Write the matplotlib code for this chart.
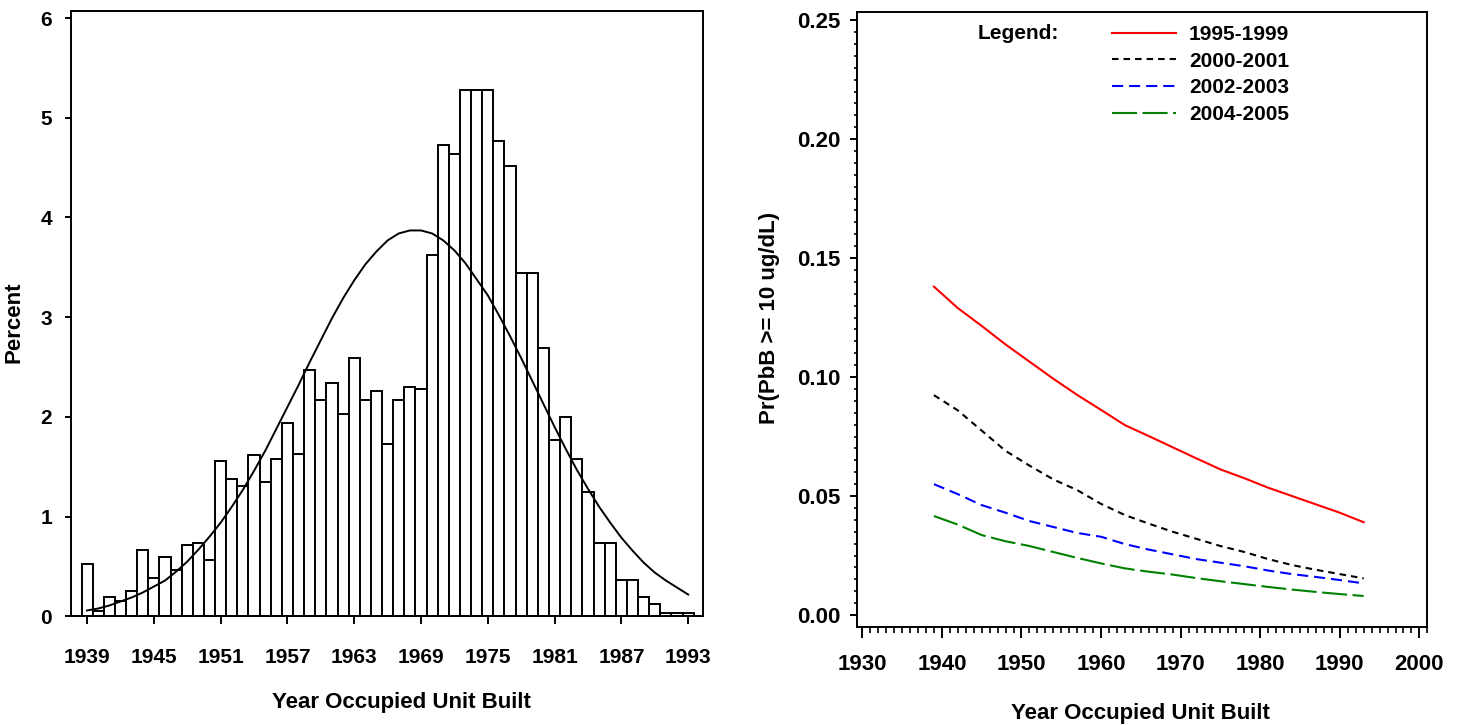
"""Year built histogram and predicted blood lead probability by survey period."""

import matplotlib

matplotlib.use("Agg")
import matplotlib.pyplot as plt
from matplotlib.ticker import MultipleLocator

plt.rcParams["font.family"] = ["Liberation Sans", "DejaVu Sans"]
plt.rcParams["font.weight"] = "bold"
plt.rcParams["lines.scale_dashes"] = False

# left panel: percent of occupied units by year built
years = list(range(1939, 1994))
percent = [
    0.53, 0.05, 0.20, 0.16, 0.26, 0.67, 0.39, 0.60, 0.47, 0.72,
    0.74, 0.57, 1.56, 1.38, 1.31, 1.62, 1.35, 1.58, 1.94, 1.63,
    2.47, 2.17, 2.34, 2.03, 2.59, 2.17, 2.26, 1.73, 2.17, 2.30,
    2.28, 3.62, 4.73, 4.64, 5.28, 5.28, 5.28, 4.77, 4.52, 3.44,
    3.44, 2.69, 1.77, 2.00, 1.58, 1.25, 0.74, 0.74, 0.37, 0.37,
    0.20, 0.12, 0.03, 0.03, 0.03,
]
fitted_curve = [
    0.06, 0.08, 0.11, 0.15, 0.19, 0.24, 0.30, 0.36, 0.45, 0.55,
    0.67, 0.80, 0.94, 1.10, 1.27, 1.46, 1.66, 1.88, 2.10, 2.32,
    2.55, 2.77, 2.99, 3.19, 3.37, 3.53, 3.66, 3.77, 3.84, 3.87,
    3.87, 3.84, 3.77, 3.67, 3.54, 3.38, 3.22, 3.02, 2.81, 2.59,
    2.36, 2.13, 1.90, 1.68, 1.47, 1.28, 1.10, 0.94, 0.79, 0.66,
    0.54, 0.44, 0.36, 0.29, 0.22,
]
hist_ticks = [1939, 1945, 1951, 1957, 1963, 1969, 1975, 1981, 1987, 1993]

# right panel: predicted Pr(PbB >= 10 ug/dL)
curve_years = [1939, 1942, 1945, 1948, 1951, 1954, 1957, 1960, 1963, 1966,
               1969, 1972, 1975, 1978, 1981, 1984, 1987, 1990, 1993]
pr_1995_1999 = [0.1380, 0.1290, 0.1215, 0.1137, 0.1065, 0.0993, 0.0925, 0.0862, 0.0798, 0.0752,
                0.0705, 0.0658, 0.0612, 0.0575, 0.0535, 0.0500, 0.0465, 0.0430, 0.0390]
pr_2000_2001 = [0.0924, 0.0860, 0.0775, 0.0690, 0.0628, 0.0570, 0.0525, 0.0467, 0.0420, 0.0384,
                0.0350, 0.0320, 0.0290, 0.0265, 0.0235, 0.0210, 0.0190, 0.0172, 0.0154]
pr_2002_2003 = [0.0550, 0.0508, 0.0462, 0.0430, 0.0395, 0.0370, 0.0345, 0.0329, 0.0298, 0.0275,
                0.0255, 0.0235, 0.0220, 0.0205, 0.0187, 0.0172, 0.0160, 0.0147, 0.0133]
pr_2004_2005 = [0.0416, 0.0380, 0.0336, 0.0310, 0.0290, 0.0265, 0.0240, 0.0217, 0.0196, 0.0182,
                0.0170, 0.0155, 0.0142, 0.0130, 0.0118, 0.0107, 0.0097, 0.0088, 0.0080]
series = [
    ("1995-1999", pr_1995_1999, "#ff0000", "-"),
    ("2000-2001", pr_2000_2001, "black", (0, (4.7, 3.6))),
    ("2002-2003", pr_2002_2003, "#0000ff", (0, (8.0, 4.3))),
    ("2004-2005", pr_2004_2005, "#008000", (0, (18.0, 4.0))),
]

fig = plt.figure(figsize=(14.62, 7.25), dpi=100)

# ---- histogram ----
ax1 = fig.add_axes([0.0489, 0.1497, 0.4317, 0.8351])
ax1.bar(years, percent, width=1.0, color="white", edgecolor="black", linewidth=1.4)
ax1.plot(years, fitted_curve, color="black", lw=1.4)
ax1.set_xlim(1937.6, 1994.3)
ax1.set_ylim(0, 6.07)
ax1.set_xticks(hist_ticks)
ax1.set_yticks(range(0, 7))
ax1.tick_params(axis="x", direction="out", length=6, width=1.4, pad=17, labelsize=15)
ax1.tick_params(axis="y", direction="out", length=4, width=1.4, pad=10, labelsize=15)
for spine in ax1.spines.values():
    spine.set_linewidth(1.4)
ax1.set_xlabel("Year Occupied Unit Built", fontsize=16, fontweight="bold")
ax1.xaxis.set_label_coords(0.522, -0.125)
ax1.set_ylabel("Percent", fontsize=16, fontweight="bold")
ax1.yaxis.set_label_coords(-0.074, 0.486)

# ---- predicted probability ----
ax2 = fig.add_axes([0.586, 0.1356, 0.3903, 0.8478])
for label, values, color, style in series:
    ax2.plot(curve_years, values, color=color, linestyle=style, lw=1.5, label=label)
ax2.set_xlim(1929.3, 2001.0)
ax2.set_ylim(-0.0049, 0.2534)
ax2.xaxis.set_major_locator(MultipleLocator(10))
ax2.xaxis.set_minor_locator(MultipleLocator(1))
ax2.yaxis.set_major_locator(MultipleLocator(0.05))
ax2.yaxis.set_minor_locator(MultipleLocator(0.005))
ax2.yaxis.set_major_formatter(lambda v, pos: f"{v:.2f}")
ax2.tick_params(axis="x", which="major", direction="out", length=8, width=1.4, pad=12, labelsize=16)
ax2.tick_params(axis="x", which="minor", direction="out", length=4.5, width=1.2)
ax2.tick_params(axis="y", which="major", direction="out", length=5, width=1.4, pad=7, labelsize=16)
ax2.tick_params(axis="y", which="minor", direction="out", length=2.5, width=1.2)
for spine in ax2.spines.values():
    spine.set_linewidth(1.4)
ax2.set_xlabel("Year Occupied Unit Built", fontsize=16, fontweight="bold")
ax2.xaxis.set_label_coords(0.4965, -0.124)
ax2.set_ylabel("Pr(PbB >= 10 ug/dL)", fontsize=16, fontweight="bold")
ax2.yaxis.set_label_coords(-0.135, 0.502)

ax2.text(0.2126, 0.9658, "Legend:", transform=ax2.transAxes, fontsize=15,
         fontweight="bold", ha="left", va="center")
ax2.legend(loc="upper left", bbox_to_anchor=(0.447, 0.979), frameon=False,
           borderpad=0, borderaxespad=0, handlelength=3.1, handletextpad=0.6,
           labelspacing=0.37, prop={"size": 15, "weight": "bold"})

fig.savefig("out.png", dpi=100)
